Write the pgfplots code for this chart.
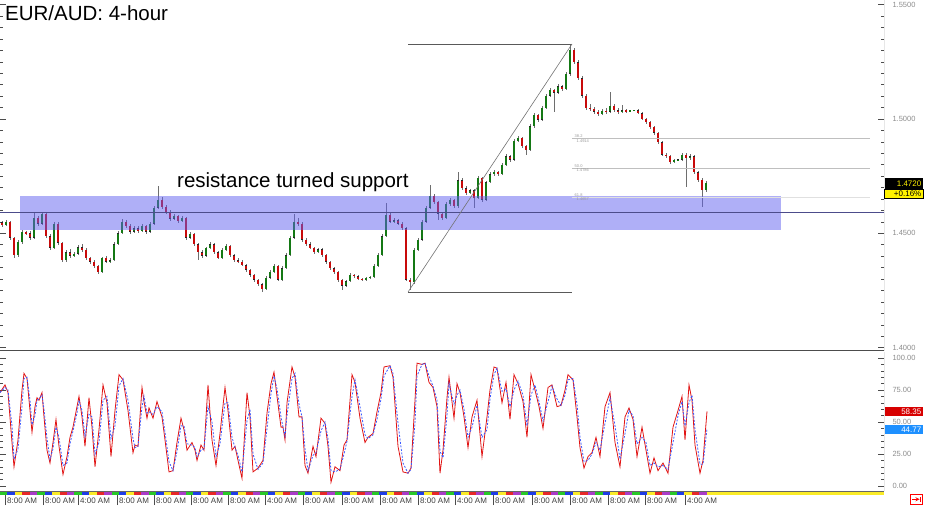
\documentclass[border=0pt]{standalone}
\usepackage{fontspec}
\setmainfont{Liberation Sans}
\usepackage{pgfplots}
\usepackage{pgfplotstable}
\pgfplotsset{compat=1.18}

\definecolor{upc}{RGB}{20,120,20}
\definecolor{dnc}{RGB}{200,10,10}
\definecolor{wickc}{RGB}{110,110,110}
\definecolor{bandc}{RGB}{95,95,240}
\definecolor{tickc}{RGB}{140,140,140}
\definecolor{stochred}{RGB}{225,20,20}
\definecolor{stochblue}{RGB}{60,90,255}
\definecolor{boxblue}{RGB}{30,144,255}
\definecolor{boxred}{RGB}{215,0,0}
\definecolor{sgreen}{RGB}{40,200,40}
\definecolor{sblue}{RGB}{30,60,230}
\definecolor{syellow}{RGB}{250,235,40}
\definecolor{sred}{RGB}{230,40,40}
\definecolor{spurple}{RGB}{170,60,200}

\newcommand{\sep}{{\color{black!70}\rule[-2pt]{0.6pt}{10pt}}\,}

% 4-hour candles: x (chart position), open, high, low, close
\pgfplotstableread{
x o h l c
2 1.4548 1.4556 1.4528 1.4536
6 1.4536 1.4558 1.4530 1.4550
10 1.4550 1.4555 1.4472 1.4480
14 1.4480 1.4486 1.4392 1.4405
18 1.4405 1.4470 1.4398 1.4462
22 1.4462 1.4515 1.4455 1.4506
26 1.4506 1.4512 1.4494 1.4501
30 1.4501 1.4508 1.4472 1.4480
34 1.4480 1.4589 1.4476 1.4567
38 1.4567 1.4574 1.4532 1.4541
42 1.4541 1.4594 1.4535 1.4585
46 1.4585 1.4590 1.4480 1.4488
50 1.4488 1.4495 1.4428 1.4436
54 1.4436 1.4550 1.4430 1.4541
58 1.4541 1.4548 1.4450 1.4458
62 1.4458 1.4462 1.4374 1.4383
66 1.4383 1.4426 1.4376 1.4418
70 1.4418 1.4430 1.4392 1.4401
74 1.4401 1.4418 1.4395 1.4410
78 1.4410 1.4448 1.4404 1.4440
82 1.4440 1.4452 1.4420 1.4427
86 1.4427 1.4434 1.4385 1.4392
90 1.4392 1.4398 1.4366 1.4375
94 1.4375 1.4382 1.4350 1.4357
98 1.4357 1.4362 1.4322 1.4331
102 1.4331 1.4398 1.4326 1.4392
106 1.4392 1.4401 1.4368 1.4375
110 1.4375 1.4390 1.4370 1.4383
114 1.4383 1.4460 1.4378 1.4453
118 1.4453 1.4508 1.4448 1.4501
122 1.4501 1.4562 1.4495 1.4550
126 1.4550 1.4558 1.4524 1.4532
130 1.4532 1.4540 1.4498 1.4506
134 1.4506 1.4530 1.4500 1.4523
138 1.4523 1.4531 1.4503 1.4510
142 1.4510 1.4539 1.4504 1.4532
146 1.4532 1.4538 1.4499 1.4506
150 1.4506 1.4548 1.4500 1.4541
154 1.4541 1.4620 1.4536 1.4611
158 1.4611 1.4707 1.4605 1.4646
162 1.4646 1.4658 1.4608 1.4615
166 1.4615 1.4624 1.4585 1.4593
170 1.4593 1.4600 1.4556 1.4563
174 1.4563 1.4584 1.4558 1.4576
178 1.4576 1.4582 1.4547 1.4554
182 1.4554 1.4575 1.4549 1.4567
186 1.4567 1.4572 1.4472 1.4480
190 1.4480 1.4505 1.4474 1.4497
194 1.4497 1.4503 1.4446 1.4453
198 1.4453 1.4458 1.4383 1.4418
202 1.4418 1.4425 1.4394 1.4401
206 1.4401 1.4442 1.4396 1.4436
210 1.4436 1.4460 1.4430 1.4453
214 1.4453 1.4458 1.4411 1.4418
218 1.4418 1.4423 1.4386 1.4392
222 1.4392 1.4434 1.4388 1.4427
226 1.4427 1.4452 1.4421 1.4445
230 1.4445 1.4450 1.4398 1.4405
234 1.4405 1.4410 1.4376 1.4383
238 1.4383 1.4390 1.4368 1.4375
242 1.4375 1.4382 1.4355 1.4361
246 1.4361 1.4366 1.4333 1.4340
250 1.4340 1.4346 1.4310 1.4318
254 1.4318 1.4324 1.4288 1.4296
258 1.4296 1.4302 1.4270 1.4278
262 1.4278 1.4284 1.4243 1.4256
266 1.4256 1.4312 1.4250 1.4305
270 1.4305 1.4338 1.4299 1.4331
274 1.4331 1.4365 1.4326 1.4357
278 1.4357 1.4362 1.4290 1.4296
282 1.4296 1.4356 1.4292 1.4348
286 1.4348 1.4412 1.4342 1.4405
290 1.4405 1.4488 1.4400 1.4480
294 1.4480 1.4585 1.4475 1.4550
298 1.4550 1.4568 1.4533 1.4541
302 1.4541 1.4548 1.4464 1.4471
306 1.4471 1.4478 1.4446 1.4453
310 1.4453 1.4460 1.4430 1.4436
314 1.4436 1.4442 1.4411 1.4418
318 1.4418 1.4438 1.4412 1.4431
322 1.4431 1.4436 1.4398 1.4405
326 1.4405 1.4410 1.4368 1.4375
330 1.4375 1.4380 1.4341 1.4348
334 1.4348 1.4354 1.4324 1.4331
338 1.4331 1.4336 1.4288 1.4296
342 1.4296 1.4302 1.4252 1.4270
346 1.4270 1.4298 1.4264 1.4291
350 1.4291 1.4326 1.4285 1.4318
354 1.4318 1.4324 1.4306 1.4313
358 1.4313 1.4318 1.4294 1.4300
362 1.4300 1.4306 1.4290 1.4296
366 1.4296 1.4311 1.4290 1.4305
370 1.4305 1.4315 1.4299 1.4309
374 1.4309 1.4364 1.4304 1.4357
378 1.4357 1.4412 1.4352 1.4405
382 1.4405 1.4495 1.4400 1.4488
386 1.4488 1.4632 1.4482 1.4580
390 1.4580 1.4590 1.4543 1.4550
394 1.4550 1.4566 1.4544 1.4558
398 1.4558 1.4564 1.4535 1.4541
402 1.4541 1.4548 1.4516 1.4523
406 1.4523 1.4528 1.4290 1.4296
410 1.4296 1.4305 1.4252 1.4287
414 1.4287 1.4434 1.4280 1.4427
418 1.4427 1.4478 1.4421 1.4471
422 1.4471 1.4557 1.4466 1.4550
426 1.4550 1.4618 1.4545 1.4611
430 1.4611 1.4711 1.4605 1.4663
434 1.4663 1.4670 1.4630 1.4637
438 1.4637 1.4642 1.4560 1.4585
442 1.4585 1.4592 1.4560 1.4567
446 1.4567 1.4635 1.4562 1.4628
450 1.4628 1.4654 1.4620 1.4646
454 1.4646 1.4652 1.4611 1.4619
458 1.4619 1.4768 1.4612 1.4733
462 1.4733 1.4740 1.4690 1.4698
466 1.4698 1.4705 1.4669 1.4676
470 1.4676 1.4696 1.4670 1.4689
474 1.4689 1.4695 1.4611 1.4654
478 1.4654 1.4750 1.4648 1.4742
482 1.4742 1.4748 1.4638 1.4646
486 1.4646 1.4731 1.4640 1.4724
490 1.4724 1.4766 1.4718 1.4759
494 1.4759 1.4775 1.4752 1.4768
498 1.4768 1.4774 1.4752 1.4759
502 1.4759 1.4806 1.4753 1.4799
506 1.4799 1.4845 1.4793 1.4838
510 1.4838 1.4844 1.4814 1.4821
514 1.4821 1.4911 1.4815 1.4904
518 1.4904 1.4925 1.4898 1.4917
522 1.4917 1.4922 1.4875 1.4882
526 1.4882 1.4888 1.4842 1.4864
530 1.4864 1.4976 1.4858 1.4969
534 1.4969 1.5026 1.4962 1.5018
538 1.5018 1.5024 1.4988 1.4996
542 1.4996 1.5056 1.4990 1.5048
546 1.5048 1.5109 1.5042 1.5101
550 1.5101 1.5135 1.5095 1.5127
554 1.5127 1.5133 1.5031 1.5114
558 1.5114 1.5152 1.5108 1.5144
562 1.5144 1.5150 1.5124 1.5131
566 1.5131 1.5205 1.5125 1.5197
570 1.5197 1.5328 1.5190 1.5302
574 1.5302 1.5310 1.5240 1.5249
578 1.5249 1.5256 1.5170 1.5179
582 1.5179 1.5186 1.5094 1.5101
586 1.5101 1.5108 1.5040 1.5048
590 1.5048 1.5066 1.5036 1.5044
594 1.5044 1.5052 1.5024 1.5031
598 1.5031 1.5040 1.5014 1.5022
602 1.5022 1.5042 1.5016 1.5035
606 1.5035 1.5046 1.5024 1.5031
610 1.5031 1.5118 1.5025 1.5057
614 1.5057 1.5064 1.5032 1.5039
618 1.5039 1.5046 1.5024 1.5031
622 1.5031 1.5060 1.5026 1.5039
626 1.5039 1.5044 1.5028 1.5035
630 1.5035 1.5041 1.5033 1.5039
634 1.5039 1.5041 1.5037 1.5039
638 1.5039 1.5042 1.5020 1.5026
642 1.5026 1.5030 1.4994 1.5000
646 1.5000 1.5006 1.4980 1.4987
650 1.4987 1.4992 1.4958 1.4965
654 1.4965 1.4970 1.4932 1.4939
658 1.4939 1.4944 1.4892 1.4899
662 1.4899 1.4904 1.4836 1.4843
666 1.4843 1.4850 1.4830 1.4838
670 1.4838 1.4844 1.4805 1.4812
674 1.4812 1.4826 1.4808 1.4821
678 1.4821 1.4823 1.4819 1.4821
682 1.4821 1.4850 1.4815 1.4843
686 1.4843 1.4852 1.4703 1.4829
690 1.4829 1.4845 1.4822 1.4838
694 1.4838 1.4844 1.4760 1.4768
698 1.4768 1.4774 1.4726 1.4733
702 1.4733 1.4740 1.4615 1.4689
706 1.4689 1.4728 1.4682 1.4720
}\candles

% stochastic oscillator: k (red) and d (blue, dashed)
\pgfplotstableread{
x k d
0 73 73
5 79 77
8 73 75
12 34 47
14 15 21
18 36 29
22 75 62
24 88 84
27 84 85
30 59 67
32 42 48
35 62 55
37 69 67
39 67 68
42 73 71
44 54 60
47 28 37
50 18 21
53 34 29
56 52 46
59 31 38
63 9 16
67 23 18
70 38 33
73 46 43
77 62 57
79 70 67
82 54 59
85 31 39
89 69 56
92 46 54
95 15 25
99 44 34
103 79 67
107 65 70
111 23 37
115 59 47
119 87 78
123 83 84
128 59 67
133 26 37
135 32 30
138 31 31
142 77 62
144 66 70
147 53 57
149 61 58
153 53 56
157 66 62
162 54 58
165 36 42
169 11 19
173 12 12
177 34 27
181 53 47
184 44 47
187 28 33
192 34 32
195 28 30
197 20 23
201 32 28
204 28 29
208 79 62
212 36 50
216 16 23
220 41 33
225 77 65
228 59 65
232 28 38
235 31 30
238 20 24
242 6 11
247 73 51
250 54 60
253 11 25
258 14 13
263 20 18
267 57 45
271 80 72
274 89 86
277 70 76
281 46 54
283 46 46
285 36 39
287 65 55
292 93 84
295 85 88
299 54 64
302 54 54
305 16 29
308 10 12
313 31 24
316 23 26
321 53 43
325 49 50
328 31 37
331 3 12
335 15 11
340 12 13
344 32 25
347 36 35
352 87 70
355 81 83
360 53 62
365 34 40
368 38 37
373 41 40
377 58 52
381 73 68
384 93 86
390 94 94
393 85 88
398 31 49
403 11 18
408 10 10
411 14 13
415 67 49
417 96 86
422 95 95
425 96 96
429 81 86
433 77 78
437 62 67
440 10 27
443 28 22
447 69 55
449 85 80
454 53 64
457 80 71
460 73 75
464 54 60
468 30 38
472 54 46
477 67 63
482 23 38
487 54 44
490 75 68
494 93 87
497 92 92
502 65 74
506 81 76
510 52 62
514 87 75
518 80 82
523 66 71
527 38 47
531 87 71
535 75 79
539 62 66
543 45 51
548 77 66
552 79 78
557 62 68
561 63 63
565 75 71
568 87 83
573 83 84
577 54 64
580 30 38
584 14 19
588 23 20
592 26 25
596 38 34
600 23 28
605 62 49
610 73 69
615 34 47
620 15 21
625 54 41
629 61 59
633 52 55
637 23 33
642 46 38
646 28 34
650 10 16
654 22 18
658 12 15
663 18 16
668 10 13
673 46 34
678 59 55
682 70 66
685 36 47
689 79 65
692 67 71
695 32 44
700 10 17
703 20 17
707 58.35 44.77
}\stoch

\begin{document}
\begin{tikzpicture}[x=1pt,y=1pt]
\useasboundingbox (0,0) rectangle (925,506);

% ---------- price panel ----------
\begin{axis}[
    at={(0pt,506pt)}, anchor=north west,
    scale only axis, width=884pt, height=351pt,
    xmin=0, xmax=884, ymin=1.39852, ymax=1.55205,
    axis line style={draw=none},
    xtick=\empty,
    ytick={1.40,1.45,1.50,1.55},
    yticklabels={1.4000,1.4500,1.5000,1.5500},
    minor y tick num=9,
    tick align=inside,
    yticklabel pos=right,
    major tick length=6pt, minor tick length=3pt,
    tick style={draw=black!70, line width=0.5pt},
    yticklabel style={font=\fontsize{7.5}{8}\selectfont, text=tickc, anchor=west, xshift=5pt},
]
% wicks
\addplot[draw=none, forget plot, error bars/.cd, y dir=both, y explicit, error mark=none,
    error bar style={draw=wickc, line width=0.8pt}]
    table[x=x, y expr={(\thisrow{h}+\thisrow{l})/2}, y error expr={(\thisrow{h}-\thisrow{l})/2}] {\candles};
% body outlines
\addplot[draw=none, forget plot, error bars/.cd, y dir=both, y explicit, error mark=none,
    error bar style={draw=black!85, line width=2.8pt}]
    table[x=x, y expr={(\thisrow{o}+\thisrow{c})/2},
          y error expr={max(abs(\thisrow{c}-\thisrow{o})/2,0.00025)}] {\candles};
% up bodies
\addplot[draw=none, forget plot, error bars/.cd, y dir=both, y explicit, error mark=none,
    error bar style={draw=upc, line width=1.6pt}]
    table[x=x, y expr={\thisrow{c}>=\thisrow{o} ? (\thisrow{o}+\thisrow{c})/2 : nan},
          y error expr={max(abs(\thisrow{c}-\thisrow{o})/2-0.0002,0.00005)}] {\candles};
% down bodies
\addplot[draw=none, forget plot, error bars/.cd, y dir=both, y explicit, error mark=none,
    error bar style={draw=dnc, line width=1.6pt}]
    table[x=x, y expr={\thisrow{c}<\thisrow{o} ? (\thisrow{o}+\thisrow{c})/2 : nan},
          y error expr={max(abs(\thisrow{c}-\thisrow{o})/2-0.0002,0.00005)}] {\candles};

% support zone
\fill[bandc, fill opacity=0.5] (axis cs:20,1.4663) rectangle (axis cs:781,1.4514);
\draw[black!65!blue!70, line width=0.9pt] (axis cs:0,1.4591) -- (axis cs:884,1.4591);

% fibonacci tool
\draw[black!65, line width=0.8pt] (axis cs:408,1.5328) -- (axis cs:572,1.5328);
\draw[black!65, line width=0.8pt] (axis cs:408,1.4243) -- (axis cs:572,1.4243);
\draw[black!55, line width=0.6pt] (axis cs:408,1.4243) -- (axis cs:572,1.5328);
\draw[black!25, line width=1pt] (axis cs:572,1.4914) -- (axis cs:870,1.4914);
\draw[black!25, line width=1pt] (axis cs:572,1.47855) -- (axis cs:870,1.47855);
\draw[black!12, line width=1pt] (axis cs:572,1.4657) -- (axis cs:870,1.4657);
\node[font=\fontsize{4}{4}\selectfont, text=black!40, inner sep=0.5pt, above right] at (axis cs:574,1.4914) {38.2};
\node[font=\fontsize{4}{4}\selectfont, text=black!40, inner sep=0.5pt, below right] at (axis cs:576,1.4914) {1.4914};
\node[font=\fontsize{4}{4}\selectfont, text=black!40, inner sep=0.5pt, above right] at (axis cs:574,1.47855) {50.0};
\node[font=\fontsize{4}{4}\selectfont, text=black!40, inner sep=0.5pt, below right] at (axis cs:576,1.47855) {1.4786};
\node[font=\fontsize{4}{4}\selectfont, text=black!40, inner sep=0.5pt, above right] at (axis cs:574,1.4657) {61.8};
\node[font=\fontsize{4}{4}\selectfont, text=black!40, inner sep=0.5pt, below right] at (axis cs:576,1.4657) {1.4657};

\draw[black!75, line width=0.6pt] (rel axis cs:1,0) -- (rel axis cs:1,1);
\draw[black!70, line width=1.2pt] (rel axis cs:0,0) -- (rel axis cs:1,0);
\end{axis}

% ---------- stochastic panel ----------
\begin{axis}[
    at={(0pt,15pt)}, anchor=south west,
    scale only axis, width=884pt, height=139pt,
    xmin=0, xmax=884, ymin=-3.9, ymax=104.7,
    axis line style={draw=none},
    ytick={0,25,50,75,100},
    yticklabels={0.00,25.00,50.00,75.00,100.00},
    minor y tick num=4,
    tick align=inside,
    yticklabel pos=right,
    major tick length=6pt, minor tick length=3pt,
    tick style={draw=black!70, line width=0.5pt},
    yticklabel style={font=\fontsize{7.5}{8}\selectfont, text=tickc, anchor=west, xshift=5pt},
    xtick={5,43,78,117,154,191,228,265,303,342,380,418,455,493,532,570,608,645,685},
    xticklabels={\sep 8:00 AM,\sep 8:00 AM,\sep 4:00 AM,\sep 8:00 AM,\sep 8:00 AM,\sep 8:00 AM,\sep 8:00 AM,\sep 4:00 AM,\sep 8:00 AM,\sep 8:00 AM,\sep 8:00 AM,\sep 8:00 AM,\sep 4:00 AM,\sep 8:00 AM,\sep 8:00 AM,\sep 8:00 AM,\sep 8:00 AM,\sep 8:00 AM,\sep 4:00 AM},
    xtick style={draw=none},
    xticklabel style={font=\fontsize{8}{9}\selectfont, text=black!75, anchor=base west, inner sep=0pt, yshift=-12pt},
]
\addplot[stochred, line width=0.8pt] table[x=x, y=k] {\stoch};
\addplot[stochblue, line width=0.8pt, dash pattern=on 2pt off 1.5pt] table[x=x, y=d] {\stoch};
\draw[black!75, line width=0.6pt] (rel axis cs:1,0) -- (rel axis cs:1,1);
\draw[black!60, line width=0.5pt] (rel axis cs:0,0) -- (rel axis cs:1,0);
\end{axis}

% session strip
\fill[syellow] (0,11) rectangle (884,14.5);
\foreach \i in {0,...,94}{%
  \pgfmathtruncatemacro{\k}{mod(\i,5)}%
  \ifcase\k \def\cc{sgreen}\or \def\cc{sblue}\or \def\cc{syellow}\or \def\cc{sred}\or \def\cc{spurple}\fi
  \fill[\cc] ({\i*7.44},11) rectangle ({\i*7.44+7.44},14.5);
}

% titles
\node[anchor=base west, inner sep=0, font=\fontsize{20.5}{24}\selectfont] at (5,485) {EUR/AUD: 4-hour};
\node[anchor=base west, inner sep=0, font=\fontsize{20.5}{24}\selectfont] at (177,318) {resistance turned support};

% value boxes on the right
\fill[black] (884.5,317) rectangle (923,328);
\node[anchor=east, inner sep=0, text=yellow, font=\fontsize{8}{9}\selectfont] at (921.5,322.5) {1.4720};
\filldraw[fill=yellow, draw=black, line width=0.4pt] (884.5,308) rectangle (923,317);
\node[anchor=east, inner sep=0, font=\fontsize{8}{9}\selectfont] at (921.5,312.5) {+0.16\%};
\fill[boxred] (884.5,90) rectangle (923,99);
\node[anchor=east, inner sep=0, text=white, font=\fontsize{8}{9}\selectfont] at (921.5,94.5) {58.35};
\fill[boxblue] (884.5,72) rectangle (923,81);
\node[anchor=east, inner sep=0, text=white, font=\fontsize{8}{9}\selectfont] at (921.5,76.5) {44.77};

% scroll button
\draw[red, line width=0.6pt] (910,1.5) rectangle (922,12);
\draw[red, line width=0.8pt, -stealth] (912,6.75) -- (919.5,6.75);
\draw[red, line width=0.8pt] (920,4) -- (920,9.5);
\end{tikzpicture}
\end{document}
